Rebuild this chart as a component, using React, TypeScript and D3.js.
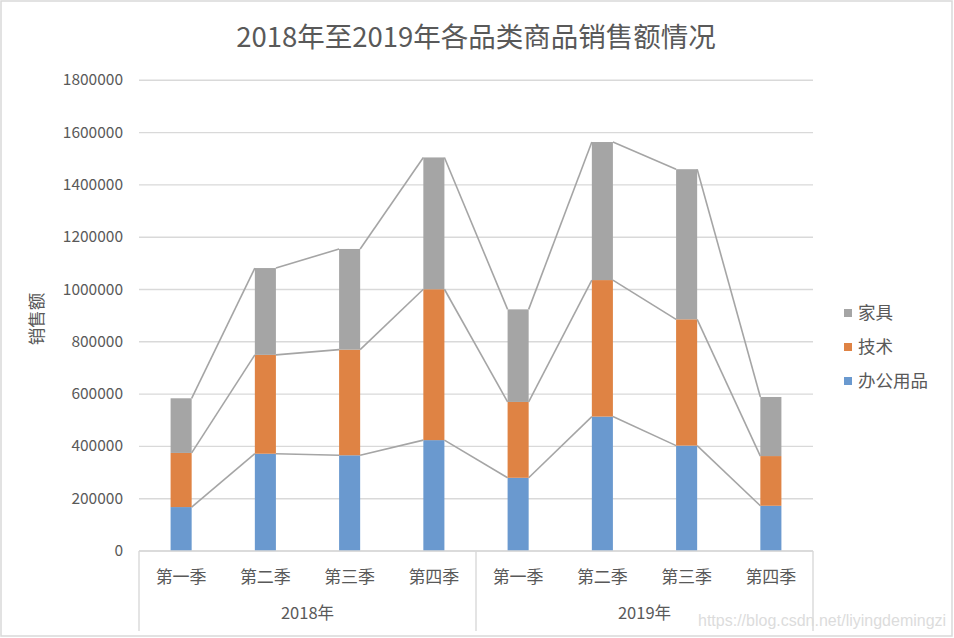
import React from "react";
import * as d3 from "d3";

const quarters = ["第一季", "第二季", "第三季", "第四季", "第一季", "第二季", "第三季", "第四季"];
const years = ["2018年", "2019年"];
const officeValues = [168000, 372000, 366000, 424000, 280000, 514000, 403000, 173000];
const techValues = [207000, 378000, 404000, 577000, 290000, 522000, 483000, 190000];
const furnitureValues = [209000, 332000, 385000, 504000, 354000, 528000, 574000, 226000];
const seriesNames = ["办公用品", "技术", "家具"];
const yTicks = [0, 200000, 400000, 600000, 800000, 1000000, 1200000, 1400000, 1600000, 1800000];
const title = "2018年至2019年各品类商品销售额情况";
const yTitle = "销售额";
const watermark = "https://blog.csdn.net/liyingdemingzi";

const W = 954;
const H = 638;
const colors = ["#6a99cf", "#df8344", "#a5a5a5"];
const FONT = "'Noto Sans CJK SC', 'Noto Sans', sans-serif";

export default function App() {
  const left = 139;
  const right = 813;
  const top = 80.3;
  const bottom = 551;
  const idx = quarters.map((_, i) => i);
  const x = d3.scaleBand<number>().domain(idx).range([left, right]).paddingInner(0.75).paddingOuter(0.375);
  const xOuter = d3.scaleBand<number>().domain(idx).range([left, right]);
  const y = d3.scaleLinear().domain([0, 1800000]).range([bottom, top]);
  const data = idx.map((i) => ({ i, s0: officeValues[i], s1: techValues[i], s2: furnitureValues[i] }));
  const stack = d3.stack<any>().keys(["s0", "s1", "s2"]);
  const layers = stack(data);
  const bw = x.bandwidth();
  const yearScale = d3.scaleBand<number>().domain([0, 1]).range([left, right]);

  return (
    <div style={{ position: "fixed", left: 0, top: 0 }}>
      <svg width={W} height={H} style={{ display: "block", background: "#fff" }}>
        <rect x={1} y={1} width={W - 3} height={H - 3} fill="#fff" stroke="#d9d9d9" strokeWidth={1.5} />
        <text x={476} y={47} textAnchor="middle" fontFamily={FONT} fontSize={27.5} fill="#595959">
          {title}
        </text>
        {yTicks.map((t) => (
          <g key={t}>
            <line x1={left} x2={right} y1={y(t)} y2={y(t)} stroke="#d9d9d9" strokeWidth={1.4} />
            <text x={123} y={y(t) + 5} textAnchor="end" fontFamily={FONT} fontSize={15.5} fill="#595959">
              {t}
            </text>
          </g>
        ))}
        <text
          transform={`translate(43, ${319}) rotate(-90)`}
          textAnchor="middle"
          fontFamily={FONT}
          fontSize={17.5}
          fill="#595959"
        >
          {yTitle}
        </text>
        {layers.map((layer, si) => (
          <g key={si}>
            {layer.map((d, i) => (
              <rect
                key={i}
                x={x(i)}
                y={y(d[1])}
                width={bw}
                height={y(d[0]) - y(d[1])}
                fill={colors[si]}
              />
            ))}
            {layer.slice(0, -1).map((d, i) => (
              <line
                key={"l" + i}
                x1={(x(i) as number) + bw}
                y1={y(d[1])}
                x2={x(i + 1) as number}
                y2={y(layer[i + 1][1])}
                stroke="#a5a5a5"
                strokeWidth={1.6}
              />
            ))}
          </g>
        ))}
        <line x1={left} x2={right} y1={bottom} y2={bottom} stroke="#d9d9d9" strokeWidth={1.4} />
        {[left, (left + right) / 2, right].map((lx, k) => (
          <line key={k} x1={lx} x2={lx} y1={bottom} y2={631} stroke="#d9d9d9" strokeWidth={1.4} />
        ))}
        {quarters.map((q, i) => (
          <text
            key={i}
            x={(xOuter(i) as number) + xOuter.bandwidth() / 2}
            y={583}
            textAnchor="middle"
            fontFamily={FONT}
            fontSize={17}
            fill="#595959"
          >
            {q}
          </text>
        ))}
        {years.map((yr, k) => (
          <text
            key={yr}
            x={(yearScale(k) as number) + yearScale.bandwidth() / 2}
            y={619}
            textAnchor="middle"
            fontFamily={FONT}
            fontSize={16.5}
            fill="#595959"
          >
            {yr}
          </text>
        ))}
        {[2, 1, 0].map((si, k) => (
          <g key={si} transform={`translate(844, ${313 + k * 34})`}>
            <rect x={0} y={-4} width={8} height={8} fill={colors[si]} />
            <text x={14} y={6} fontFamily={FONT} fontSize={17.5} fill="#595959">
              {seriesNames[si]}
            </text>
          </g>
        ))}
        <text x={698} y={626} fontFamily="'Liberation Sans', Arial, sans-serif" fontSize={16} fill="#dcdcdc">
          {watermark}
        </text>
      </svg>
    </div>
  );
}
